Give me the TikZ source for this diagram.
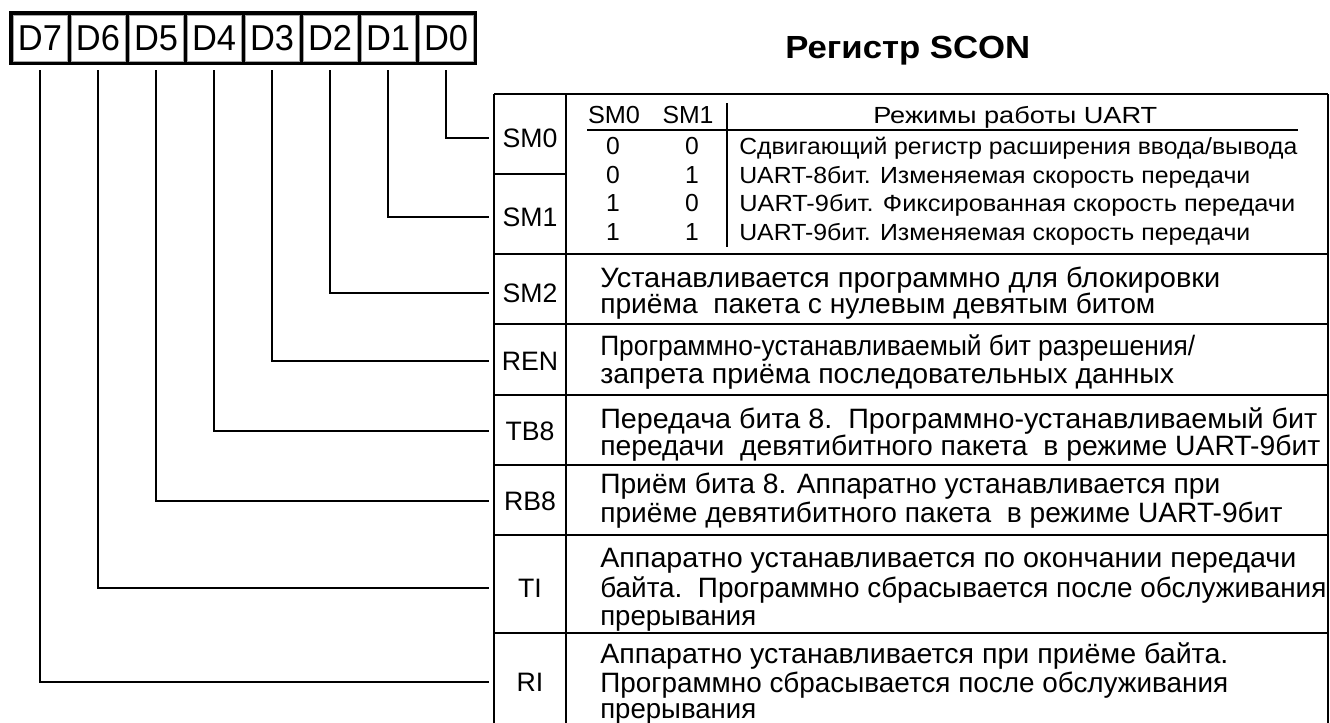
\documentclass[tikz,border=0pt]{standalone}
\usepackage{fontspec}
\setmainfont{Liberation Sans}
\usepackage{graphicx}
\newlength\pxu
\setlength\pxu{0.75pt}
\newcommand\fitw[2]{\resizebox{#1\pxu}{\height}{#2}}
\begin{document}
\begin{tikzpicture}[x=0.75pt,y=-0.75pt,
  conn/.style={line width=1.5pt, black},
  grid/.style={line width=1.5pt, black},
  bitcell/.style={draw=gray!70, line width=0.6pt, fill=white, minimum width=40.5pt, minimum height=34.5pt, inner sep=0pt, font=\fontsize{27}{27}\selectfont, text height=19.3pt, text depth=0pt},
  namecell/.style={minimum width=54pt, inner sep=0pt, font=\fontsize{20}{20}\selectfont, text height=14.3pt, text depth=0pt},
  desc/.style={anchor=base west, inner sep=0pt, font=\fontsize{21}{21}\selectfont},
  mode/.style={anchor=base west, inner sep=0pt, font=\fontsize{17.5}{17.5}\selectfont},
  modec/.style={anchor=base, inner sep=0pt, font=\fontsize{18.5}{18.5}\selectfont},
  titlestyle/.style={anchor=base west, inner sep=0pt, font=\fontsize{24}{24}\selectfont\bfseries}
]
\useasboundingbox (0,0) rectangle (1330,722);
\fill[white] (0,0) rectangle (1330,722);

% register
\fill[black] (9,11) rectangle (477,65);
\foreach \i/\x in {7/40,6/98,5/156,4/214,3/272,2/330,1/388,0/446}
  \node[bitcell] (b\i) at (\x,38) {\fitw{44}{D\i}};

% title
\node[titlestyle] (title) at (785,58) {\fitw{245}{Регистр SCON}};

% table grid
\draw[grid] (494,94) -- (1328,94);
\draw[grid] (494,94) -- (494,723);
\draw[grid] (566,94) -- (566,723);
\draw[grid] (1328,94) -- (1328,723);
\draw[grid] (494,174) -- (566,174);
\foreach \y in {254,324,395,465,535,633}
  \draw[grid] (494,\y) -- (1328,\y);

% names
\node[namecell] (nsm0) at (530,138) {SM0};
\node[namecell] (nsm1) at (530,217) {SM1};
\node[namecell] (nsm2) at (530,293) {SM2};
\node[namecell] (nren) at (530,361) {REN};
\node[namecell] (ntb8) at (530,431) {TB8};
\node[namecell] (nrb8) at (530,501) {RB8};
\node[namecell] (nti)  at (530,588) {TI};
\node[namecell] (nri)  at (530,682) {RI};

% connectors
\draw[conn] ([yshift=-6.75pt]b0.south) |- ([xshift=-3.75pt]nsm0.west);
\draw[conn] ([yshift=-6.75pt]b1.south) |- ([xshift=-3.75pt]nsm1.west);
\draw[conn] ([yshift=-6.75pt]b2.south) |- ([xshift=-3.75pt]nsm2.west);
\draw[conn] ([yshift=-6.75pt]b3.south) |- ([xshift=-3.75pt]nren.west);
\draw[conn] ([yshift=-6.75pt]b4.south) |- ([xshift=-3.75pt]ntb8.west);
\draw[conn] ([yshift=-6.75pt]b5.south) |- ([xshift=-3.75pt]nrb8.west);
\draw[conn] ([yshift=-6.75pt]b6.south) |- ([xshift=-3.75pt]nti.west);
\draw[conn] ([yshift=-6.75pt]b7.south) |- ([xshift=-3.75pt]nri.west);

% mode table
\node[modec] (h0) at (614,123) {\fitw{52}{SM0}};
\node[modec] (h1) at (688,123) {\fitw{51}{SM1}};
\node[mode] (hm) at (873,123) {\fitw{284}{Режимы работы UART}};
\draw[grid] (587,130) -- (1298,130);
\draw[grid] (727,103) -- (727,247);
\node[modec] (r1a) at (613,154) {0};
\node[modec] (r1b) at (692,154) {0};
\node[mode] (r1t) at (739,154) {\fitw{558}{Сдвигающий регистр расширения ввода/вывода}};
\node[modec] (r2a) at (613,183) {0};
\node[modec] (r2b) at (692,183) {1};
\node[mode] (r2t) at (739,183) {\fitw{511}{UART-8бит. Изменяемая скорость передачи}};
\node[modec] (r3a) at (613,211) {1};
\node[modec] (r3b) at (692,211) {0};
\node[mode] (r3t) at (739,211) {\fitw{556}{UART-9бит. Фиксированная скорость передачи}};
\node[modec] (r4a) at (613,240) {1};
\node[modec] (r4b) at (692,240) {1};
\node[mode] (r4t) at (739,240) {\fitw{511}{UART-9бит. Изменяемая скорость передачи}};

% descriptions
\node[desc] (sm2a) at (600,287) {\fitw{620}{Устанавливается программно для блокировки}};
\node[desc] (sm2b) at (600,313) {\fitw{555}{приёма\ \ пакета с нулевым девятым битом}};
\node[desc] (rena) at (600,355) {\fitw{595}{Программно-устанавливаемый бит разрешения/}};
\node[desc] (renb) at (600,383) {\fitw{574}{запрета приёма последовательных данных}};
\node[desc] (tb8a) at (600,428) {\fitw{717}{Передача бита 8.\ \ Программно-устанавливаемый бит}};
\node[desc] (tb8b) at (600,455) {\fitw{720}{передачи\ \ девятибитного пакета\ \ в режиме UART-9бит}};
\node[desc] (rb8a) at (600,493) {\fitw{620}{Приём бита 8. Аппаратно устанавливается при}};
\node[desc] (rb8b) at (600,522) {\fitw{682}{приёме девятибитного пакета\ \ в режиме UART-9бит}};
\node[desc] (tia) at (600,567) {\fitw{696}{Аппаратно устанавливается по окончании передачи}};
\node[desc] (tib) at (600,597) {\fitw{726}{байта.\ \ Программно сбрасывается после обслуживания}};
\node[desc] (tic) at (600,625) {\fitw{156}{прерывания}};
\node[desc] (ria) at (600,663) {\fitw{628}{Аппаратно устанавливается при приёме байта.}};
\node[desc] (rib) at (600,692) {\fitw{628}{Программно сбрасывается после обслуживания}};
\node[desc] (ric) at (600,718) {\fitw{156}{прерывания}};
\end{tikzpicture}
\end{document}
